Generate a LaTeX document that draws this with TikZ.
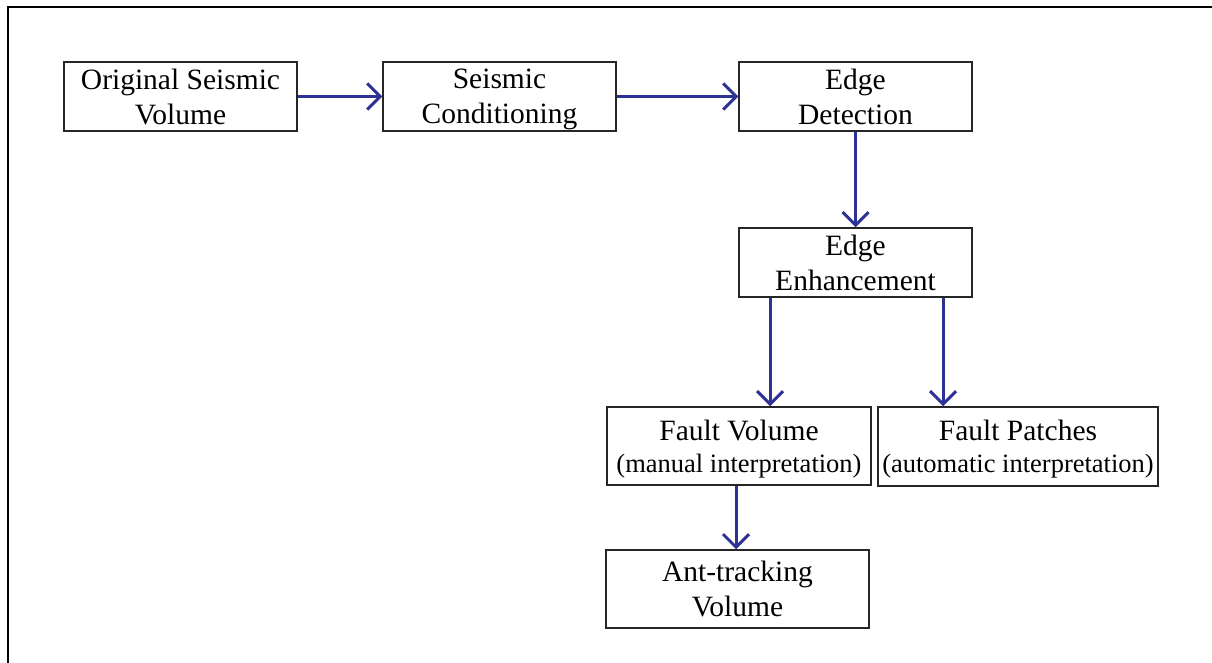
\documentclass[tikz,border=0pt]{standalone}
\usepackage{fontspec}
\setmainfont{Liberation Serif}
\usetikzlibrary{arrows.meta}
\definecolor{arrblue}{RGB}{46,50,148}
\newcommand{\nodepth}[1]{\raisebox{0pt}[\height][0pt]{#1}}
\begin{document}
\begin{tikzpicture}[x=1pt,y=-1pt,
  box/.style={draw=black!85,line width=1.5pt,inner sep=0pt,align=center,
    minimum width=233pt,minimum height=69pt,
    font=\fontsize{29.5}{35}\selectfont},
  arr/.style={draw=arrblue,line width=3pt,
    -{Straight Barb[length=13pt,width=26pt,line width=3pt]}}]
\useasboundingbox (0,0) rectangle (1212,663);
\fill[white] (0,0) rectangle (1212,663);
% frame
\draw[line width=2.5pt] (8,663) -- (8,7) -- (1212,7);
% nodes
\node[box] (osv) at (180.5,96.5) {Original Seismic\\Volume};
\node[box] (sc) at (499.5,96.5) {Seismic\\\nodepth{Conditioning}};
\node[box] (ed) at (855.5,96.5) {Edge\\Detection};
\node[box] (ee) at (855.5,262.5) {Edge\\Enhancement};
\node[box,minimum width=264pt,minimum height=78pt] (fv) at (739,446)
  {Fault Volume\\[-3pt]\nodepth{\fontsize{26.5}{32}\selectfont (manual interpretation)}};
\node[box,minimum width=280pt,minimum height=79pt] (fp) at (1018,446.5)
  {Fault Patches\\[-3pt]\nodepth{\fontsize{26.5}{32}\selectfont (automatic interpretation)}};
\node[box,minimum width=263pt,minimum height=78pt] (at) at (737.5,589)
  {Ant-tracking\\Volume};
% connectors
\draw[arr] (osv.east) -- (sc.west);
\draw[arr] (sc.east) -- (ed.west);
\draw[arr] (ed.south) -- (ee.north);
\draw[arr] ([xshift=-85.5pt]ee.south) -- ([xshift=-85.5pt]ee.south |- fv.north);
\draw[arr] ([xshift=87.5pt]ee.south) -- ([xshift=87.5pt]ee.south |- fp.north);
\draw[arr] ([xshift=-3pt]fv.south) -- ([xshift=-3pt]fv.south |- at.north);
\end{tikzpicture}
\end{document}
